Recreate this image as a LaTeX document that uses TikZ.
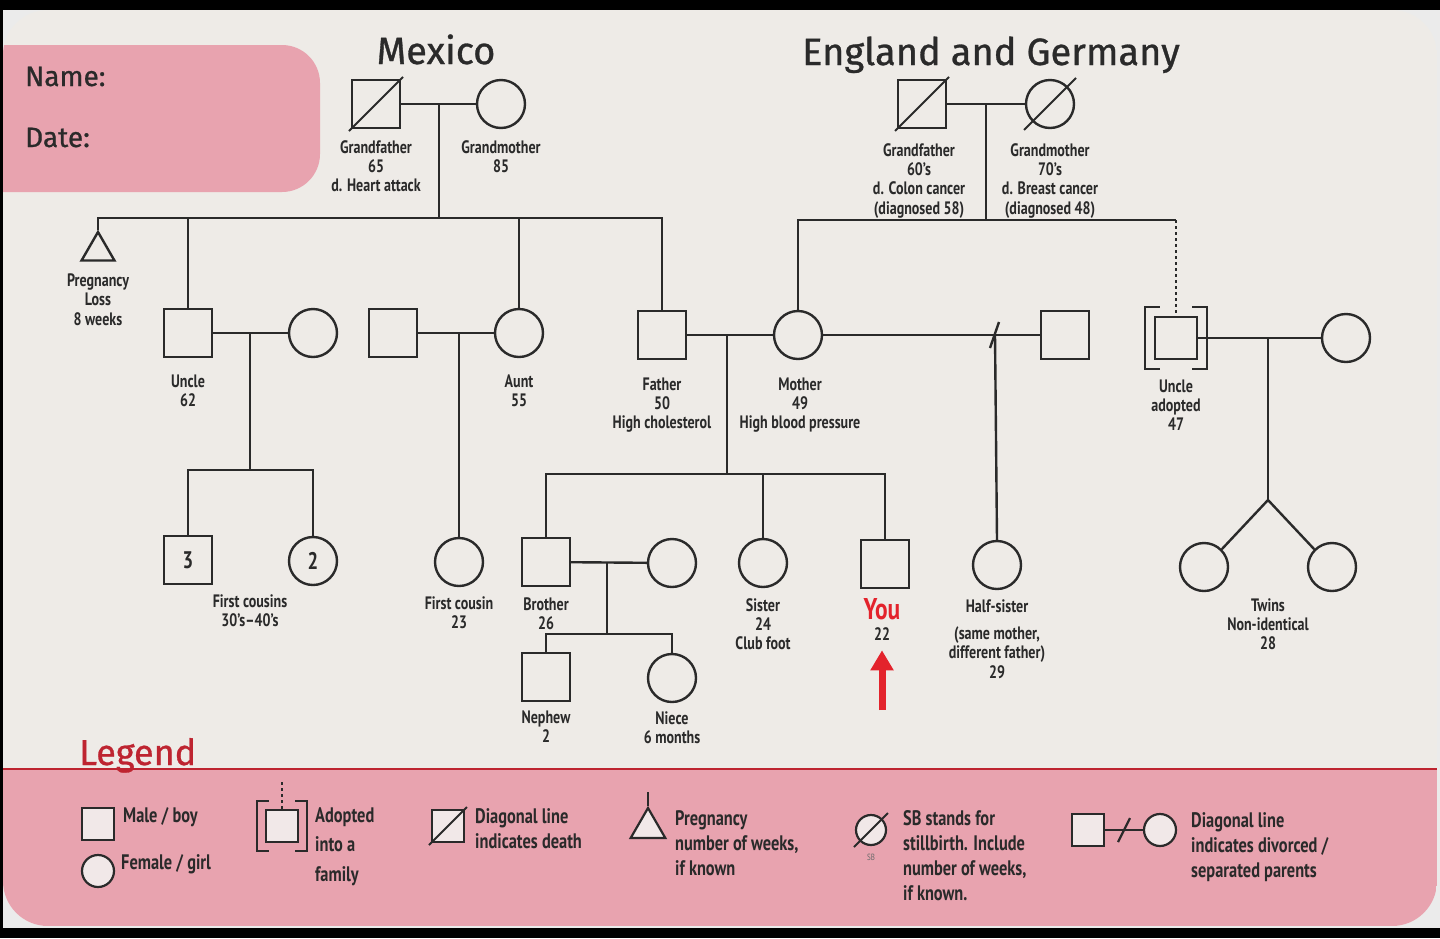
\documentclass[tikz,border=0pt]{standalone}
\usepackage{fontspec}
\usepackage{tikz}
\usetikzlibrary{positioning,calc,shapes.geometric,arrows.meta}

\newfontfamily\titlefont[FakeBold=0.8]{Fira Sans}
\newfontfamily\lblfont[FakeStretch=0.78,Ligatures=TeX]{PT Sans}

\definecolor{cardbg}{HTML}{EEEBE7}
\definecolor{cardpink}{HTML}{E8A3AF}
\definecolor{legendred}{HTML}{BE2430}
\definecolor{youred}{HTML}{E3232C}
\definecolor{symfill}{HTML}{F1E8E8}
\definecolor{ink}{HTML}{2A2A2A}

\newcommand{\deathslash}[2]{\draw[line width=2pt] ($(#1)+(-#2,#2)$) -- ($(#1)+(#2,-#2)$);}
\newcommand{\adoptbrackets}[3]{%
  \draw ($(#1.north west)+({-#2+#3},-#2)$) -| ($(#1.south west)+(-#2,#2)$) -- ++(#3,0);
  \draw ($(#1.north east)+({#2-#3},-#2)$) -| ($(#1.south east)+(#2,#2)$) -- ++(-#3,0);}

\begin{document}
\begin{tikzpicture}[x=1pt,y=-1pt,line width=2.4pt,color=ink,
  male/.style={draw,rectangle,minimum size=48pt,inner sep=0pt},
  female/.style={draw,circle,minimum size=48pt,inner sep=0pt},
  lost/.style={draw,regular polygon,regular polygon sides=3,minimum size=38pt,inner sep=0pt},
  lbl/.style={font=\lblfont\bfseries\fontsize{18}{19.3}\selectfont,align=center,inner sep=0pt},
  legtxt/.style={font=\lblfont\bfseries\fontsize{21}{25}\selectfont,align=left,inner sep=0pt,anchor=north west},
  title/.style={font=\titlefont\fontsize{38}{40}\selectfont,inner sep=0pt,anchor=base},
  headtxt/.style={font=\titlefont\fontsize{28}{30}\selectfont,inner sep=0pt,anchor=base west},
  legsym/.style={draw,fill=symfill,minimum size=32pt,inner sep=0pt,line width=2.2pt},
  adoptline/.style={dash pattern=on 3pt off 3pt,line width=2pt},
  youarrow/.style={draw=youred,line width=7pt,-{Triangle[width=22pt,length=20pt]}}]

\useasboundingbox (0,0) rectangle (1440,938);
\fill[black] (0,0) rectangle (1440,938);
\fill[black!8] (3,10) rectangle (1440,928);
\begin{scope}
  \clip[rounded corners=45pt] (3,10) rectangle (1437,926);
  \fill[cardbg] (3,10) rectangle (1437,926);
  \fill[cardpink,rounded corners=38pt] (-60,45) rectangle (320,192);
  \fill[cardpink] (3,769) rectangle (1437,926);
\end{scope}
\draw[legendred,line width=2.5pt] (3,769) -- (1437,769);

\node[headtxt] (nameTxt) at (24,86) {Name:};
\node[headtxt] (dateTxt) at (24,147) {Date:};
\node[title] (mexico) at (436,64) {Mexico};
\node[title] (england) at (991,65) {England and Germany};

% grandparents
\node[male] (gfMex) at (376,104) {};
\node[female] (gmMex) at (501,104) {};
\node[male] (gfEng) at (922,104) {};
\node[female] (gmEng) at (1050,104) {};
\deathslash{gfMex}{27}
\deathslash{gfEng}{27}
\deathslash{gmEng}{26}
\node[lbl,below=10pt of gfMex] (gfMexTxt) {Grandfather\\65\\d. Heart attack};
\node[lbl,below=10pt of gmMex] (gmMexTxt) {Grandmother\\85};
\node[lbl,below=13pt of gfEng,xshift=-3pt] (gfEngTxt) {Grandfather\\60’s\\d. Colon cancer\\(diagnosed 58)};
\node[lbl,below=13pt of gmEng] (gmEngTxt) {Grandmother\\70’s\\d. Breast cancer\\(diagnosed 48)};

% parents' generation
\node[lost] (pregLoss) at (98,251) {};
\node[male] (uncle) at (188,333) {};
\node[female] (uncleWife) at (313,333) {};
\node[male] (auntHusb) at (393,333) {};
\node[female] (aunt) at (519,333) {};
\node[male] (father) at (662,335) {};
\node[female] (mother) at (798,335) {};
\node[male] (stepfather) at (1065,335) {};
\node[male,minimum size=42pt] (uncleAdopt) at (1176,338) {};
\node[female] (uncleAdoptWife) at (1346,338) {};
\adoptbrackets{uncleAdopt}{9}{15}

\node[lbl,below=11pt of pregLoss] (pregTxt) {Pregnancy\\Loss\\8 weeks};
\node[lbl,below=15pt of uncle] (uncleTxt) {Uncle\\62};
\node[lbl,below=15pt of aunt] (auntTxt) {Aunt\\55};
\node[lbl,below=16pt of father] (fatherTxt) {Father\\50\\High cholesterol};
\node[lbl,below=16pt of mother,xshift=2pt] (motherTxt) {Mother\\49\\High blood pressure};
\node[lbl,below=18pt of uncleAdopt] (uncleAdoptTxt) {Uncle\\adopted\\47};

% your generation
\node[male,font=\lblfont\bfseries\fontsize{24}{24}\selectfont] (cousinsM) at (188,560) {3};
\node[female,font=\lblfont\bfseries\fontsize{24}{24}\selectfont] (cousinsF) at (313,561) {2};
\node[female] (cousinAunt) at (459,562) {};
\node[male] (brother) at (546,562) {};
\node[female] (brotherWife) at (672,563) {};
\node[female] (sister) at (763,563) {};
\node[male] (you) at (885,564) {};
\node[female] (halfSister) at (997,565) {};
\node[female] (twinA) at (1204,567) {};
\node[female] (twinB) at (1332,567) {};

\node[lbl,anchor=north] (cousinsTxt) at (250,593) {First cousins\\30’s–40’s};
\node[lbl,below=8pt of cousinAunt] (cousinAuntTxt) {First cousin\\23};
\node[lbl,below=9pt of brother] (brotherTxt) {Brother\\26};
\node[lbl,below=9pt of sister] (sisterTxt) {Sister\\24\\Club foot};
\node[lbl,below=8pt of you,xshift=-3pt,text=youred,font=\lblfont\bfseries\fontsize{30}{30}\selectfont] (youTxt) {You};
\node[lbl,below=5pt of youTxt] (youAge) {22};
\node[lbl,below=8pt of halfSister] (halfSisterTxt) {Half-sister\\[8pt](same mother,\\different father)\\29};
\node[lbl,anchor=north] (twinsTxt) at (1268,597) {Twins\\Non-identical\\28};

% brother's children
\node[male] (nephew) at (546,677) {};
\node[female] (niece) at (672,678) {};
\node[lbl,below=7pt of nephew] (nephewTxt) {Nephew\\2};
\node[lbl,below=7pt of niece] (nieceTxt) {Niece\\6 months};

\coordinate (mexJoin) at (439,104);
\coordinate (mexBar) at (439,218);
\coordinate (engJoin) at (986,104);
\coordinate (engBar) at (986,220);
\coordinate (uncJoin) at (250,333);
\coordinate (uncBar) at (250,470);
\coordinate (auntJoin) at (459,333);
\coordinate (parJoin) at (727,335);
\coordinate (sibBar) at (727,474);
\coordinate (divMark) at (995,335);
\coordinate (adoptJoin) at (1268,338);
\coordinate (twinSplit) at (1268,500);
\coordinate (broJoin) at (607,563);
\coordinate (broBar) at (607,634);
\coordinate (arrowBase) at (882,710);

\draw (gfMex) -- (gmMex);
\draw (mexJoin) -- (mexBar);
\draw (pregLoss.north) -- (pregLoss.north |- mexBar) -| (father.north);
\draw (uncle.north) -- (uncle.north |- mexBar);
\draw (aunt.north) -- (aunt.north |- mexBar);

\draw (gfEng) -- (gmEng);
\draw (engJoin) -- (engBar);
\draw (mother.north) |- (uncleAdopt.north |- engBar);
\draw[adoptline] (uncleAdopt.north |- engBar) -- (uncleAdopt.north);

\draw (uncle) -- (uncleWife);
\draw (uncJoin) -- (uncBar);
\draw (cousinsM.north) |- (uncBar) -| (cousinsF.north);
\draw (auntHusb) -- (aunt);
\draw (auntJoin) -- (cousinAunt.north);

\draw (father) -- (mother);
\draw (parJoin) -- (sibBar);
\draw (brother.north) |- (sibBar) -| (you.north);
\draw (sister.north) -- (sister.north |- sibBar);
\draw (mother) -- (stepfather);
\draw ($(divMark)+(-5,13)$) -- ($(divMark)+(4,-13)$);
\draw (divMark) -- (halfSister.north);

\draw (uncleAdopt) -- (uncleAdoptWife);
\draw (adoptJoin) -- (twinSplit);
\draw (twinA.north east) -- (twinSplit) -- (twinB.north west);

\draw (brother) -- (brotherWife);
\draw (broJoin) -- (broBar);
\draw (nephew.north) |- (broBar) -| (niece.north);

\draw[youarrow] (arrowBase) -- ([yshift=-9pt]youAge.south);

% legend
\node[font=\titlefont\fontsize{36}{36}\selectfont,text=legendred,inner sep=0pt,anchor=base west] (legendTxt) at (78,765) {Legend};

\node[legsym] (lMale) at (98,824) {};
\node[legsym,circle] (lFemale) at (98,871) {};
\node[legsym] (lAdopt) at (282,826) {};
\node[legsym] (lDeath) at (448,826) {};
\node[legsym,regular polygon,regular polygon sides=3,minimum size=40pt] (lPreg) at (648,828) {};
\node[legsym,circle,minimum size=30pt] (lStill) at (871,830) {};
\node[legsym] (lDivM) at (1088,830) {};
\node[legsym,circle] (lDivF) at (1160,830) {};
\node[font=\lblfont\fontsize{9}{9}\selectfont,inner sep=0pt,text=ink!70] (lStillSB) at (871,857) {SB};

\begin{scope}[line width=2.2pt]
  \adoptbrackets{lAdopt}{8}{12}
  \coordinate (lAdoptTop) at (282,782);
  \draw[adoptline] (lAdoptTop) -- (lAdopt.north);
  \deathslash{lDeath}{19}
  \coordinate (lPregTop) at (648,792);
  \draw[line width=2pt] (lPregTop) -- (lPreg.north);
  \deathslash{lStill}{17}
  \draw (lDivM) -- (lDivF);
  \draw ($(lDivM.east)!0.5!(lDivF.west)+(-6,12)$) -- ($(lDivM.east)!0.5!(lDivF.west)+(6,-12)$);
\end{scope}

\node[legtxt] (lMaleTxt) at (122,806) {Male / boy};
\node[legtxt] (lFemaleTxt) at (120,853) {Female / girl};
\node[legtxt,font=\lblfont\bfseries\fontsize{21}{29.5}\selectfont] (lAdoptTxt) at (314,806) {Adopted\\into a\\family};
\node[legtxt] (lDeathTxt) at (474,807) {Diagonal line\\indicates death};
\node[legtxt] (lPregTxt) at (674,809) {Pregnancy\\number of weeks,\\if known};
\node[legtxt] (lStillTxt) at (902,809) {SB stands for\\stillbirth. Include\\number of weeks,\\if known.};
\node[legtxt] (lDivTxt) at (1190,811) {Diagonal line\\indicates divorced /\\separated parents};
\end{tikzpicture}
\end{document}
